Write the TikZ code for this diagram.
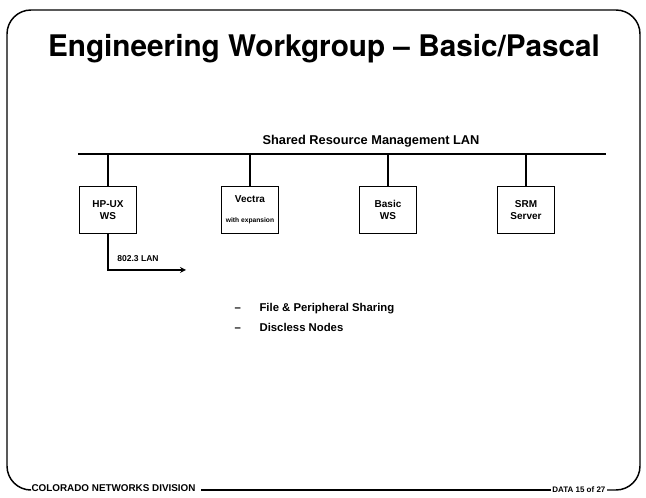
\documentclass[tikz,border=0pt]{standalone}
\usepackage{fontspec}
\setmainfont{Liberation Sans}
\newfontfamily\heros{TeX Gyre Heros}
\usetikzlibrary{positioning}

\begin{document}
\begin{tikzpicture}[
  x=0.75pt,y=-0.75pt,
  frame/.style={draw=black, line width=1.1pt, rounded corners=18pt},
  wire/.style={draw=black, line width=1pt},
  flow/.style={->, >=stealth, line width=1pt},
  box/.style={draw=black, line width=1pt, align=center, inner sep=2pt,
              minimum width=43pt, minimum height=35pt,
              font=\fontsize{7.5}{9}\selectfont\bfseries},
  label/.style={font=\fontsize{9.6}{11}\selectfont\bfseries, inner sep=1pt},
  bullet/.style={font=\fontsize{8.5}{10}\selectfont\bfseries, anchor=west, inner sep=1pt},
  foot/.style={font=\fontsize{7.4}{9}\selectfont\bfseries, inner sep=1pt}
]
  \useasboundingbox (0,0) rectangle (646,498);

  \node[font=\heros\fontsize{22.3}{26}\selectfont\bfseries] (title) at (324,49)
    {Engineering Workgroup \textendash\ Basic/Pascal};

  % shared LAN
  \coordinate (lanL) at (78,154);
  \coordinate (lanR) at (606,154);
  \draw[wire] (lanL) -- (lanR);
  \node[label] (lan) at (371,141) {Shared Resource Management LAN};

  \node[box] (hpux) at (108,210) {HP-UX\\WS};
  \node[box, inner sep=1pt] (vectra) at (250,210)
    {Vectra\\[6pt]{\fontsize{5}{5}\selectfont with expansion}};
  \node[box] (basic) at (388,210) {Basic\\WS};
  \node[box] (srm) at (526,210) {SRM\\Server};

  \foreach \n in {hpux,vectra,basic,srm}
    \draw[wire] (\n.north) -- (\n.north |- lanL);

  \coordinate (lanend) at (186,270);
  \draw[flow] (hpux.south) |- (lanend);
  \node[label, font=\fontsize{6.4}{8}\selectfont\bfseries] (ieee) at (138,259) {802.3 LAN};

  \node[bullet] (b1) at (233,309) {\textendash\hspace{14pt}File \& Peripheral Sharing};
  \node[bullet] (b2) at (233,327) {\textendash\hspace{14pt}Discless Nodes};

  % border and footer
  \node[foot, anchor=west] (cnd) at (30,488) {COLORADO NETWORKS DIVISION};
  \node[foot, anchor=east, font=\fontsize{6}{7}\selectfont\bfseries] (page) at (607,490) {DATA 15 of 27};
  \draw[wire] (cnd.east) ++(4,2) coordinate (ruleL) -- (ruleL -| page.west);
  \draw[frame] (cnd.west) ++(-2,2) -| (7,10) -| (640,490) -- (page.east |- 0,490);
\end{tikzpicture}
\end{document}
